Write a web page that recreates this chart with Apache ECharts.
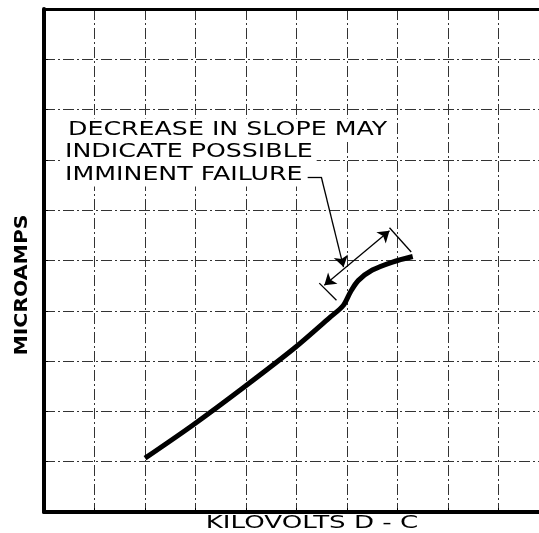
<!DOCTYPE html>
<html>
<head>
<meta charset="utf-8">
<script src="https://cdn.jsdelivr.net/npm/echarts@6/dist/echarts.min.js"></script>
<style>
html, body { margin: 0; padding: 0; background: #fff; }
#chart { width: 539px; height: 533px; }
</style>
</head>
<body>
<div id="chart"></div>
<script>
// curve (grid units, 0..10 each way)
var kilovolts = [2.0, 2.95, 3.97, 4.96, 5.65, 5.92, 6.07, 6.22, 6.5, 6.9, 7.3]
var microamps = [1.07, 1.73, 2.49, 3.26, 3.86, 4.1, 4.38, 4.6, 4.81, 4.97, 5.08]

var xTitle = 'KILOVOLTS D - C'
var yTitle = 'MICROAMPS'
var noteLines = ['DECREASE IN SLOPE MAY', 'INDICATE POSSIBLE', 'IMMINENT FAILURE']

// annotation strokes, in grid units
var leaderPts = [[5.22, 6.66], [5.49, 6.66], [5.93, 4.87]]
var spanArrow = [[5.55, 4.51], [6.84, 5.59]]
var extLow = [[5.45, 4.55], [5.79, 4.21]]
var extHigh = [[6.84, 5.65], [7.27, 5.17]]

var curve = kilovolts.map(function (k, i) {
	return [k, microamps[i]]
})

function seg(a, b, s1, s2) {
	return [
		{ coord: a, symbol: s1 || 'none', symbolSize: 11 },
		{ coord: b, symbol: s2 || 'none', symbolSize: 11 }
	]
}

var gridLine = {
	show: true,
	lineStyle: { color: '#333', width: 1, type: [11, 3, 2, 3] }
}

function noteText(i, x, y) {
	return {
		type: 'text', z: 100, x: x, y: y, scaleX: 1.33,
		style: {
			text: noteLines[i], fill: '#000', font: '19px "DejaVu Sans"',
			textVerticalAlign: 'middle', backgroundColor: '#fff', padding: [2, 3]
		}
	}
}

var myChart = echarts.init(document.getElementById('chart'))
myChart.setOption({
	animation: false,
	backgroundColor: '#fff',
	grid: {
		left: 44,
		top: 9,
		right: 0,
		bottom: 21
	},
	xAxis: [
		{
			type: 'value',
			min: 0,
			max: 9.8,
			interval: 1,
			axisLine: { show: true, onZero: false, lineStyle: { color: '#000', width: 4 } },
			axisTick: { show: true, inside: true, length: 4, lineStyle: { color: '#000' } },
			axisLabel: { show: false },
			splitLine: gridLine
		},
		{
			type: 'value',
			position: 'top',
			min: 0,
			max: 9.8,
			axisLine: { show: true, onZero: false, lineStyle: { color: '#000', width: 3 } },
			axisTick: { show: false },
			axisLabel: { show: false },
			splitLine: { show: false }
		}
	],
	yAxis: {
		type: 'value',
		min: 0,
		max: 10,
		interval: 1,
		axisLine: { show: true, onZero: false, lineStyle: { color: '#000', width: 4 } },
		axisTick: { show: true, inside: true, length: 4, lineStyle: { color: '#000' } },
		axisLabel: { show: false },
		splitLine: gridLine
	},
	series: [
		{
			type: 'line',
			data: curve,
			smooth: 0.3,
			showSymbol: false,
			lineStyle: { color: '#000', width: 5 },
			markLine: {
				silent: true,
				label: { show: false },
				lineStyle: { color: '#000', width: 1.3, type: 'solid' },
				data: [
					seg(leaderPts[0], leaderPts[1]),
					seg(leaderPts[1], leaderPts[2], 'none', 'arrow'),
					seg(spanArrow[0], spanArrow[1], 'arrow', 'arrow'),
					seg(extLow[0], extLow[1]),
					seg(extHigh[0], extHigh[1])
				]
			}
		}
	],
	graphic: [
		noteText(0, 64, 130),
		noteText(1, 61, 152.5),
		noteText(2, 61, 175),
		{
			type: 'text', x: 312, y: 523, scaleX: 1.45,
			style: {
				text: xTitle, fill: '#000', font: '18px "DejaVu Sans"',
				textAlign: 'center', textVerticalAlign: 'middle'
			}
		},
		{
			type: 'text', x: 23, y: 285, rotation: Math.PI / 2, scaleX: 1.2,
			style: {
				text: yTitle, fill: '#000', font: 'bold 17px "DejaVu Sans"',
				textAlign: 'center', textVerticalAlign: 'middle'
			}
		}
	]
})
</script>
</body>
</html>
